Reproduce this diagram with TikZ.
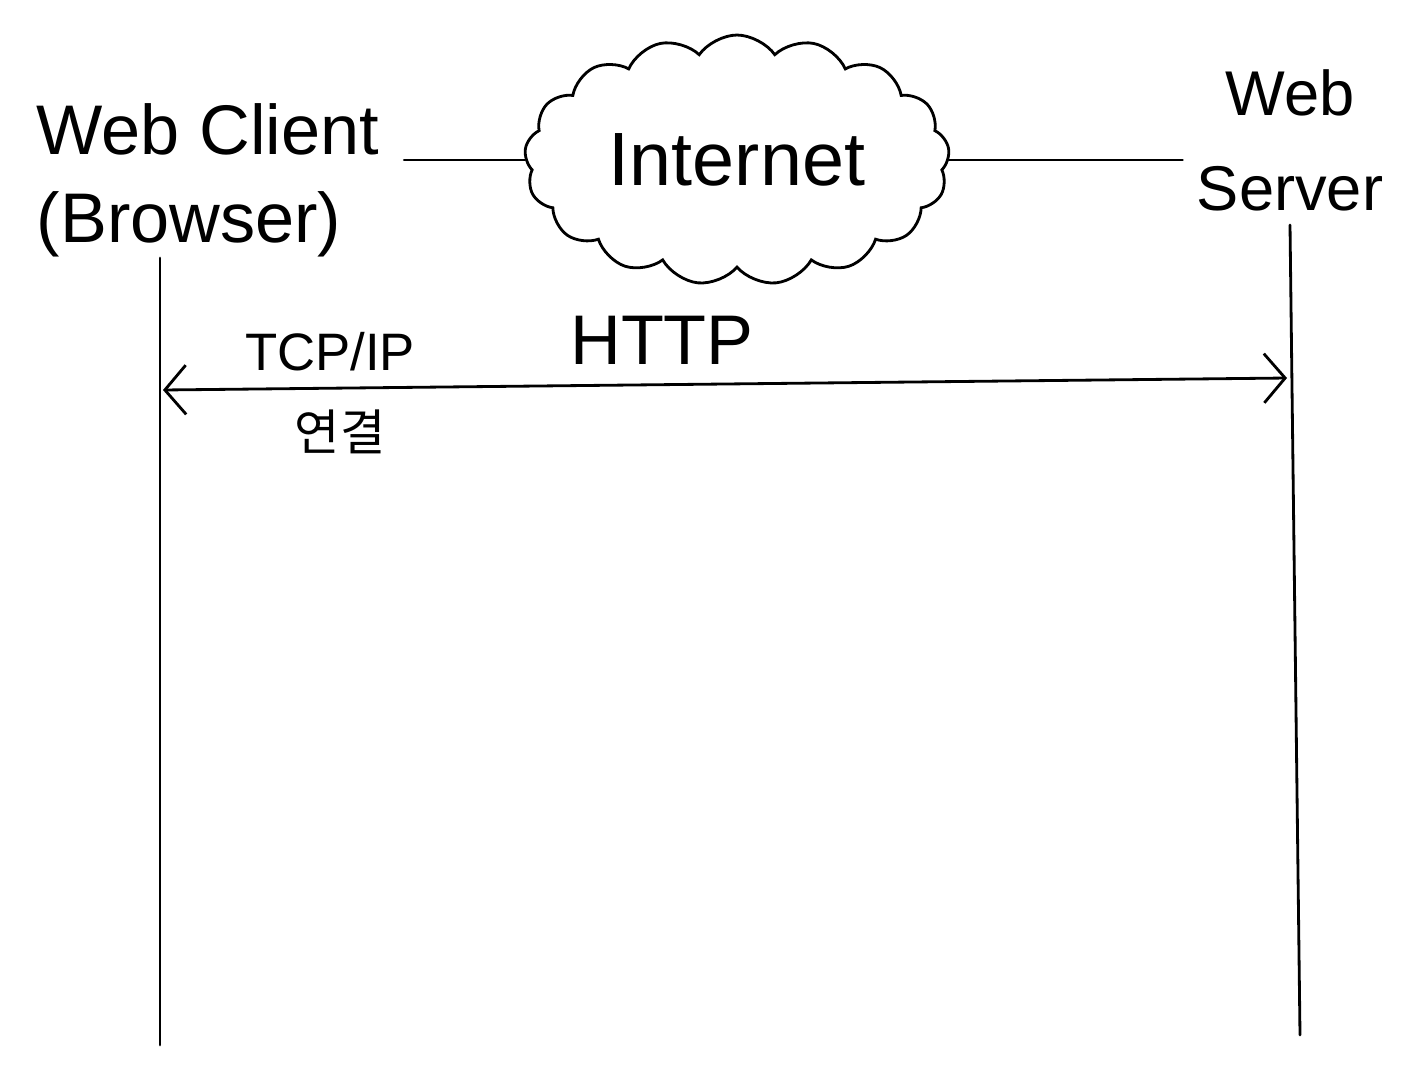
\documentclass[tikz,border=0pt]{standalone}
\usepackage{fontspec}
\setmainfont{Liberation Sans}
\newfontfamily\krfont{Noto Sans CJK KR}
\usetikzlibrary{arrows.meta, positioning, shapes.symbols}

\begin{document}
\begin{tikzpicture}[
  x=0.02cm, y=-0.02cm,
  every node/.style={inner sep=2pt},
  lbl/.style={align=center},
  net/.style={draw, cloud, cloud puffs=17, cloud puff arc=110, cloud ignores aspect,
              minimum width=8.5cm, minimum height=5cm, line width=1.6pt},
  life/.style={line width=1.6pt, line cap=round},
  arr/.style={{Straight Barb[length=12pt, width=28pt]}-{Straight Barb[length=12pt, width=28pt]},
              line width=1.6pt, line cap=round}
]
  \useasboundingbox (0,0) rectangle (1420,1065);
  % labels of the two ends
  \node[lbl, align=left, font=\fontsize{40}{50}\selectfont] (client) at (208,180) {Web Client\\(Browser)};
  \node[lbl, font=\fontsize{36}{54}\selectfont] (server) at (1290,140) {Web\\Server};
  \node[net, font=\fontsize{43}{50}\selectfont] (inet) at (737,160) {Internet};
  \draw[life, shorten <=12pt] (client.east |- inet.west) -- (inet.west);
  \draw[life, shorten >=6pt] (inet.east) -- (server.west |- inet.east);
  % lifelines
  \coordinate (ctop) at (160,258);
  \coordinate (cbot) at (160,1045);
  \coordinate (stop) at (1290,225);
  \coordinate (sbot) at (1300,1035);
  \draw[life] (ctop) -- (cbot);
  \draw[life] (stop) -- (sbot);
  % connection
  \coordinate (carr) at (163,390);
  \coordinate (sarr) at (1287,378);
  \draw[arr] (carr) -- (sarr);
  \node[lbl, font=\fontsize{40}{46}\selectfont] (http) at (662,340) {HTTP};
  \node[lbl, font=\fontsize{30}{36}\selectfont] (tcp) at (330,352) {TCP/IP};
  \node[lbl, font=\fontsize{28}{34}\krfont] (conn) at (340,432) {연결};
\end{tikzpicture}
\end{document}
